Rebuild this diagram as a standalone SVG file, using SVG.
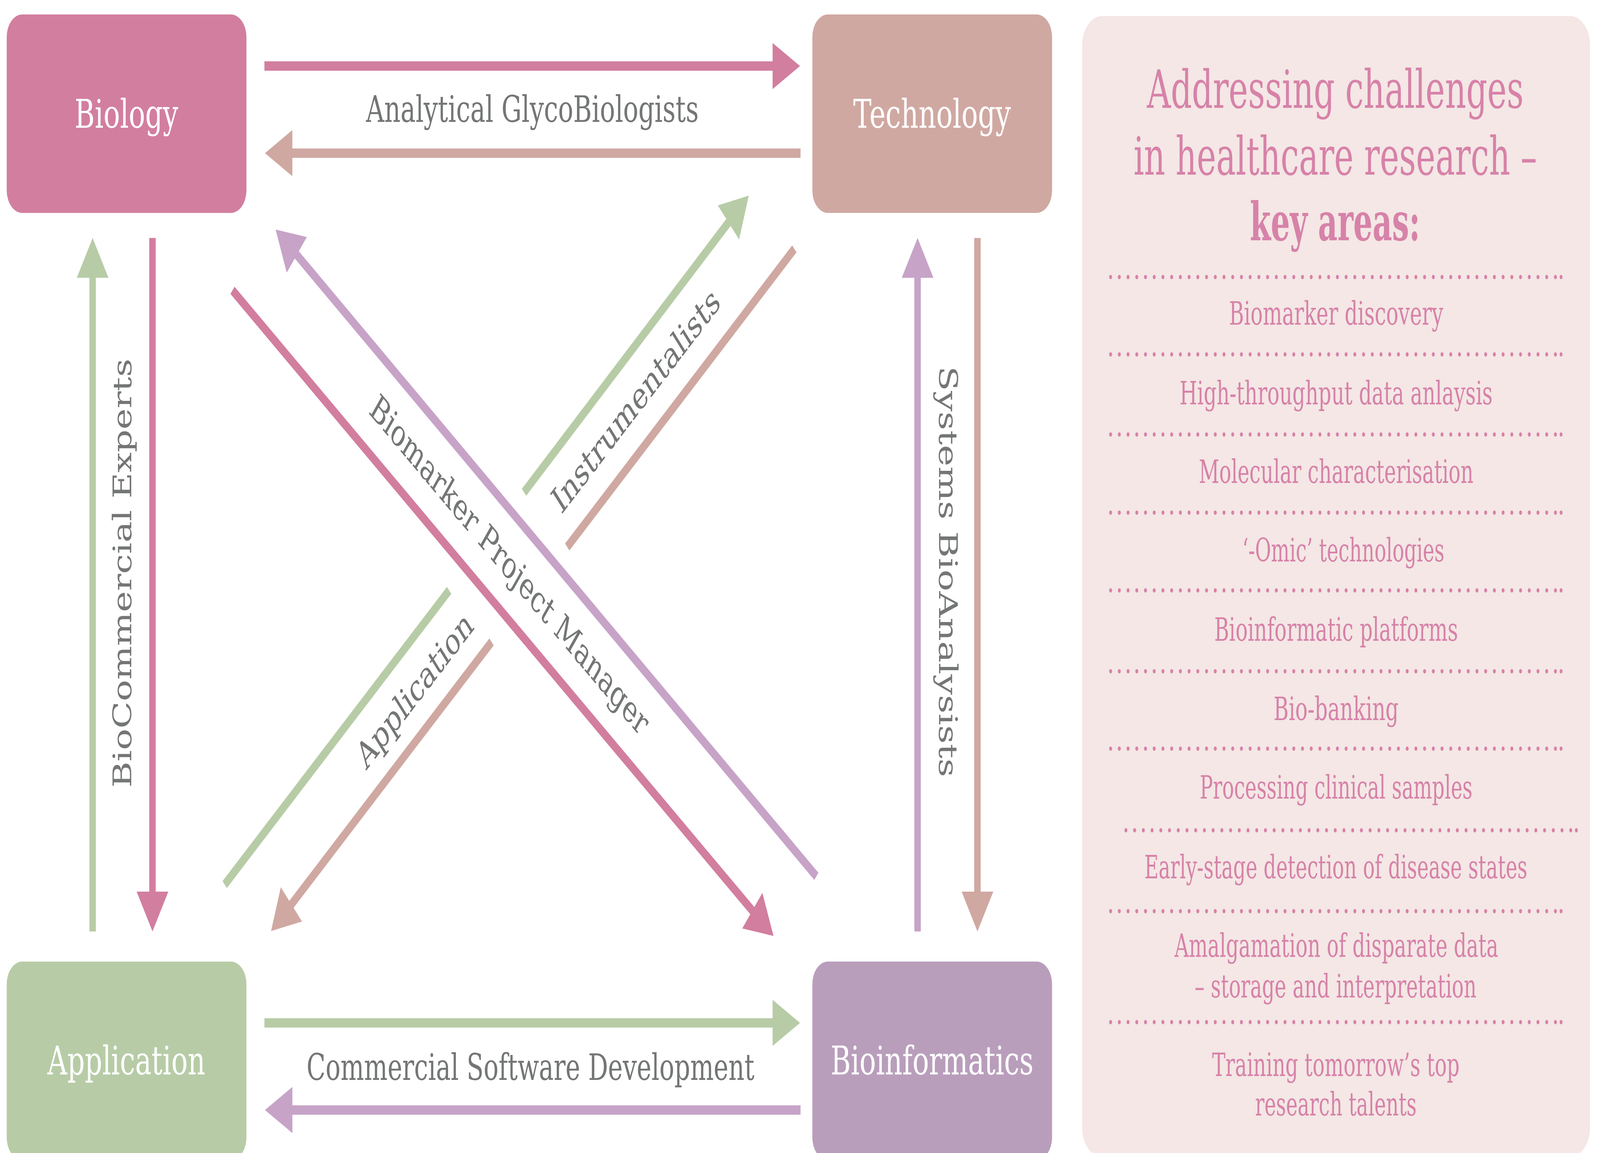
<svg xmlns="http://www.w3.org/2000/svg" width="5960" height="2951" viewBox="0 0 5960 2951" preserveAspectRatio="none">
  <defs>
    <style>
      svg:root { width: 100vw; height: 100vh; }
      .node-box { stroke: none; }
      .node-label { font-family: "DejaVu Serif", "Liberation Serif", serif; font-size: 102px; fill: #ffffff; text-anchor: middle; }
      .edge-label { font-family: "DejaVu Serif", "Liberation Serif", serif; font-size: 94px; fill: #747676; text-anchor: middle; }
      .shaft { fill: none; stroke-width: 24; stroke-linecap: butt; }
      .c-pink { stroke: #D27E9F; }
      .c-tan { stroke: #D0A8A2; }
      .c-green { stroke: #B7CCA6; }
      .c-purple { stroke: #C7A3C8; }
      .panel-text { font-family: "DejaVu Serif", "Liberation Serif", serif; fill: #D782A9; text-anchor: middle; }
      .panel-head { font-size: 134px; }
      .panel-item { font-size: 82px; }
      .dots { fill: none; stroke: #D782A9; stroke-width: 11; stroke-linecap: round; stroke-dasharray: 0 32.49; }
      .dot { fill: #D782A9; }
    </style>
    <marker id="ah-pink" markerUnits="userSpaceOnUse" markerWidth="102" markerHeight="118" refX="2" refY="59" orient="auto" overflow="visible">
      <path d="M0,0 L102,59 L0,118 Z" fill="#D27E9F"/>
    </marker>
    <marker id="ah-tan" markerUnits="userSpaceOnUse" markerWidth="102" markerHeight="118" refX="2" refY="59" orient="auto" overflow="visible">
      <path d="M0,0 L102,59 L0,118 Z" fill="#D0A8A2"/>
    </marker>
    <marker id="ah-green" markerUnits="userSpaceOnUse" markerWidth="102" markerHeight="118" refX="2" refY="59" orient="auto" overflow="visible">
      <path d="M0,0 L102,59 L0,118 Z" fill="#B7CCA6"/>
    </marker>
    <marker id="ah-purple" markerUnits="userSpaceOnUse" markerWidth="102" markerHeight="118" refX="2" refY="59" orient="auto" overflow="visible">
      <path d="M0,0 L102,59 L0,118 Z" fill="#C7A3C8"/>
    </marker>
  </defs>

  <rect width="5960" height="2951" fill="#ffffff"/>

  <!-- Connectors -->
  <g id="connectors">
    <line class="shaft c-pink" x1="985" y1="169" x2="2880" y2="169" marker-end="url(#ah-pink)"/>
    <line class="shaft c-tan" x1="2982" y1="392" x2="1087" y2="392" marker-end="url(#ah-tan)"/>
    <line class="shaft c-green" x1="985" y1="2618" x2="2880" y2="2618" marker-end="url(#ah-green)"/>
    <line class="shaft c-purple" x1="2982" y1="2841" x2="1087" y2="2841" marker-end="url(#ah-purple)"/>

    <line class="shaft c-green" x1="345" y1="2384" x2="345" y2="709" marker-end="url(#ah-green)"/>
    <line class="shaft c-pink" x1="568" y1="609" x2="568" y2="2284" marker-end="url(#ah-pink)"/>
    <line class="shaft c-purple" x1="3418" y1="2384" x2="3418" y2="709" marker-end="url(#ah-purple)"/>
    <line class="shaft c-tan" x1="3641" y1="609" x2="3641" y2="2284" marker-end="url(#ah-tan)"/>

    <line class="shaft c-purple" x1="3041" y1="2243" x2="1104" y2="651" marker-end="url(#ah-purple)"/>
    <line class="shaft c-pink" x1="866" y1="743" x2="2804" y2="2332" marker-end="url(#ah-pink)"/>

    <line class="shaft c-green" x1="837" y1="2264" x2="1673" y2="1511"/>
    <line class="shaft c-green" x1="1952" y1="1260" x2="2715" y2="568" marker-end="url(#ah-green)"/>
    <line class="shaft c-tan" x1="2959" y1="637" x2="2113" y2="1400"/>
    <line class="shaft c-tan" x1="1831" y1="1643" x2="1084" y2="2316" marker-end="url(#ah-tan)"/>

    <text class="edge-label" x="1983" y="312" textLength="1239" lengthAdjust="spacingAndGlyphs">Analytical GlycoBiologists</text>
    <text class="edge-label" x="1976" y="2764" textLength="1668" lengthAdjust="spacingAndGlyphs">Commercial Software Development</text>
    <text class="edge-label" transform="translate(489,1467) rotate(-90)" textLength="1098" lengthAdjust="spacingAndGlyphs">BioCommercial Experts</text>
    <text class="edge-label" transform="translate(3498,1463) rotate(90)" textLength="1052" lengthAdjust="spacingAndGlyphs">Systems BioAnalysists</text>
    <text class="edge-label" transform="translate(1878,1471) rotate(39.3)" textLength="1312" lengthAdjust="spacingAndGlyphs">Biomarker Project Manager</text>
    <text class="edge-label" transform="translate(2390,1049) rotate(-42)" textLength="805" lengthAdjust="spacingAndGlyphs">Instrumentalists</text>
    <text class="edge-label" transform="translate(1567,1790) rotate(-42)" textLength="545" lengthAdjust="spacingAndGlyphs">Application</text>
  </g>

  <!-- Nodes -->
  <g id="node-biology">
    <rect class="node-box" x="25" y="37" width="893" height="508" rx="58" ry="58" fill="#D27E9F"/>
    <text class="node-label" x="471" y="327">Biology</text>
  </g>
  <g id="node-technology">
    <rect class="node-box" x="3026" y="37" width="893" height="508" rx="58" ry="58" fill="#D0A8A2"/>
    <text class="node-label" x="3472" y="327">Technology</text>
  </g>
  <g id="node-application">
    <rect class="node-box" x="25" y="2461" width="893" height="508" rx="58" ry="58" fill="#B7CCA6"/>
    <text class="node-label" x="471" y="2750">Application</text>
  </g>
  <g id="node-bioinformatics">
    <rect class="node-box" x="3026" y="2461" width="893" height="508" rx="58" ry="58" fill="#B99EBC"/>
    <text class="node-label" x="3472" y="2750">Bioinformatics</text>
  </g>

  <!-- Key areas panel -->
  <g id="panel-key-areas">
    <rect x="4031" y="41" width="1892" height="2920" rx="75" ry="75" fill="#F4E7E5"/>
    <text class="panel-text panel-head" x="4974" y="276" textLength="1403" lengthAdjust="spacingAndGlyphs">Addressing challenges</text>
    <text class="panel-text panel-head" x="4974" y="447" textLength="1503" lengthAdjust="spacingAndGlyphs">in healthcare research –</text>
    <text class="panel-text panel-head" x="4973" y="615" font-weight="bold" textLength="634" lengthAdjust="spacingAndGlyphs">key areas:</text>

    <g id="dividers">
      <path class="dots" d="M4137,709 H5795"/><circle class="dot" cx="5815" cy="709" r="5.5"/>
      <path class="dots" d="M4137,907 H5795"/><circle class="dot" cx="5815" cy="907" r="5.5"/>
      <path class="dots" d="M4137,1112 H5795"/><circle class="dot" cx="5815" cy="1112" r="5.5"/>
      <path class="dots" d="M4137,1312 H5795"/><circle class="dot" cx="5815" cy="1312" r="5.5"/>
      <path class="dots" d="M4137,1511 H5795"/><circle class="dot" cx="5815" cy="1511" r="5.5"/>
      <path class="dots" d="M4137,1718 H5795"/><circle class="dot" cx="5815" cy="1718" r="5.5"/>
      <path class="dots" d="M4137,1916 H5795"/><circle class="dot" cx="5815" cy="1916" r="5.5"/>
      <path class="dots" d="M4194,2125 H5852"/><circle class="dot" cx="5872" cy="2125" r="5.5"/>
      <path class="dots" d="M4137,2332 H5795"/><circle class="dot" cx="5815" cy="2332" r="5.5"/>
      <path class="dots" d="M4137,2616 H5795"/><circle class="dot" cx="5815" cy="2616" r="5.5"/>
    </g>

    <text class="panel-text panel-item" x="4977" y="831" textLength="798" lengthAdjust="spacingAndGlyphs">Biomarker discovery</text>
    <text class="panel-text panel-item" x="4977" y="1035" textLength="1166" lengthAdjust="spacingAndGlyphs">High-throughput data anlaysis</text>
    <text class="panel-text panel-item" x="4977" y="1236" textLength="1023" lengthAdjust="spacingAndGlyphs">Molecular characterisation</text>
    <text class="panel-text panel-item" x="5004" y="1437" textLength="753" lengthAdjust="spacingAndGlyphs">‘-Omic’ technologies</text>
    <text class="panel-text panel-item" x="4977" y="1640" textLength="908" lengthAdjust="spacingAndGlyphs">Bioinformatic platforms</text>
    <text class="panel-text panel-item" x="4977" y="1843" textLength="466" lengthAdjust="spacingAndGlyphs">Bio-banking</text>
    <text class="panel-text panel-item" x="4977" y="2044" textLength="1016" lengthAdjust="spacingAndGlyphs">Processing clinical samples</text>
    <text class="panel-text panel-item" x="4976" y="2248" textLength="1427" lengthAdjust="spacingAndGlyphs">Early-stage detection of disease states</text>
    <text class="panel-text panel-item" x="4978" y="2449" textLength="1206" lengthAdjust="spacingAndGlyphs">Amalgamation of disparate data</text>
    <text class="panel-text panel-item" x="4975" y="2553" textLength="1050" lengthAdjust="spacingAndGlyphs">– storage and interpretation</text>
    <text class="panel-text panel-item" x="4976" y="2754" textLength="922" lengthAdjust="spacingAndGlyphs">Training tomorrow’s top</text>
    <text class="panel-text panel-item" x="4976" y="2855" textLength="602" lengthAdjust="spacingAndGlyphs">research talents</text>
  </g>
</svg>
